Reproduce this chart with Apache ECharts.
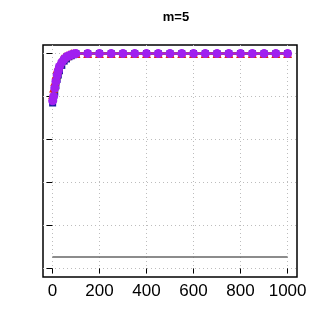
<!DOCTYPE html>
<html><head><meta charset="utf-8">
<script src="https://cdn.jsdelivr.net/npm/echarts@6/dist/echarts.min.js"></script>
<style>html,body{margin:0;padding:0;background:#fff}#c{width:321px;height:334px}</style>
</head><body><div id="c"></div>
<script>
const title = 'm=5';
const xValues = [1, 5, 10, 15, 20, 25, 30, 40, 50, 60, 70, 80, 90, 100, 150, 200, 250, 300, 350, 400, 450, 500, 550, 600, 650, 700, 750, 800, 850, 900, 950, 1000];
const blueSeries   = [0.77, 0.79, 0.82, 0.85, 0.88, 0.90, 0.92, 0.945, 0.965, 0.975, 0.985, 0.99, 0.995, 1, 1,1,1,1,1,1,1,1,1,1,1,1,1,1,1,1,1,1];
const brownSeries  = [0.78, 0.80, 0.83, 0.86, 0.89, 0.91, 0.93, 0.955, 0.97, 0.98, 0.99, 0.995, 0.998, 1, 1,1,1,1,1,1,1,1,1,1,1,1,1,1,1,1,1,1];
const redSeries    = [0.81, 0.84, 0.87, 0.90, 0.93, 0.945, 0.955, 0.975, 0.985, 0.99, 0.995, 1, 1, 1, 1,1,1,1,1,1,1,1,1,1,1,1,1,1,1,1,1,1];
const purpleSeries = [0.78, 0.80, 0.84, 0.87, 0.90, 0.92, 0.94, 0.96, 0.975, 0.985, 0.99, 0.995, 0.998, 1, 1,1,1,1,1,1,1,1,1,1,1,1,1,1,1,1,1,1];
const baseX = [0, 1000];
const baseY = [0.053, 0.053];
const xTicks = [0, 200, 400, 600, 800, 1000];
const yTicks = [0, 0.2, 0.4, 0.6, 0.8, 1.0];

const pairs = (xs, ys) => xs.map((x, i) => [x, ys[i]]);
const chart = echarts.init(document.getElementById('c'), null, {renderer: 'canvas'});
const mk = (name, ys, color, symbol, size) => ({
  name, type: 'line', data: pairs(xValues, ys), symbol, symbolSize: size,
  showAllSymbol: true,
  lineStyle: {color, width: 2}, itemStyle: {color}, animation: false, z: 3
});
chart.setOption({
  animation: false,
  title: {text: title, left: 171, top: 6, textAlign: 'center',
    textStyle: {fontFamily: 'Liberation Sans', fontWeight: 'bold', fontSize: 13, color: '#000'}},
  grid: {left: 43, top: 45, width: 254, height: 232, show: true, borderColor: '#000', borderWidth: 1.5, backgroundColor: 'transparent'},
  xAxis: {type: 'value', min: -40, max: 1040,
    axisLine: {show: false},
    axisTick: {show: true, customValues: xTicks, length: 5, lineStyle: {color: '#000'}},
    axisLabel: {show: true, customValues: xTicks, formatter: v => String(v), fontFamily: 'Liberation Sans', fontSize: 17, color: '#000', margin: 6},
    splitLine: {show: true, lineStyle: {color: '#bdbdbd', type: [1, 3], width: 1}}},
  yAxis: {type: 'value', min: -0.04, max: 1.04,
    axisLine: {show: false},
    axisTick: {show: true, customValues: yTicks, length: 6, lineStyle: {color: '#000'}},
    axisLabel: {show: false, customValues: yTicks},
    splitLine: {show: true, lineStyle: {color: '#bdbdbd', type: [1, 3], width: 1}}},
  series: [
    {name: 'base', type: 'line', data: pairs(baseX, baseY), symbol: 'none', lineStyle: {color: '#666', width: 1.5}, z: 2},
    mk('blue', blueSeries, '#1a1aa0', 'rect', 7),
    mk('brown', brownSeries, '#8b6914', 'circle', 7),
    mk('red', redSeries, '#e8201a', 'triangle', 9),
    mk('purple', purpleSeries, '#a020f0', 'circle', 9)
  ]
});
</script></body></html>
